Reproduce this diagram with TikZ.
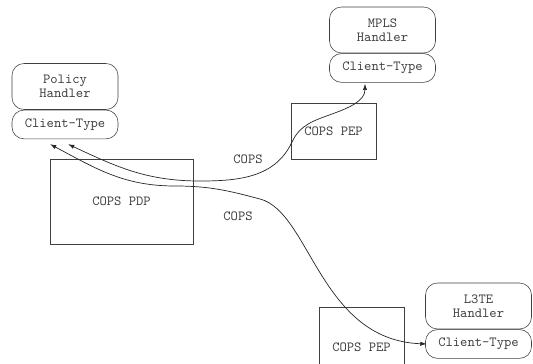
\documentclass[tikz,border=0pt]{standalone}
\usepackage{fontspec}
\usetikzlibrary{positioning,arrows.meta}

\tikzset{
  handler/.style={draw=black!75, text=black!75, rounded corners=0.3cm,
    minimum width=2.65cm, minimum height=1.15cm, align=center,
    font=\ttfamily\fontsize{9.9}{10}\selectfont},
  ctype/.style={handler, minimum height=0.72cm},
  entity/.style={draw=black!75, text=black!75, minimum width=2.125cm,
    font=\ttfamily\fontsize{9.9}{10}\selectfont},
  proto/.style={text=black!75, font=\ttfamily\fontsize{9.9}{10}\selectfont},
  link/.style={draw=black!85, line width=0.5pt,
    {Latex[length=4.5pt,width=3pt]}-{Latex[length=4.5pt,width=3pt]}},
}

\begin{document}
\begin{tikzpicture}[x=0.025cm, y=-0.025cm]
  \clip (0,0) rectangle (533,363);

  % handlers
  \node [handler] (polhd) at (65,86.5) {Policy\\Handler};
  \node [ctype, below=0pt of polhd] (polct) {Client-Type};

  \node [handler] (mplshd) at (382.5,30) {MPLS\\Handler};
  \node [ctype, below=0pt of mplshd] (mplsct) {Client-Type};

  \node [handler] (l3tehd) at (478.5,306) {L3TE\\Handler};
  \node [ctype, below=0pt of l3tehd] (l3tect) {Client-Type};

  % cops entities
  \node [entity, minimum width=3.575cm, minimum height=2.125cm] (pdp) at (121.5,201.5) {COPS PDP};
  \node [entity, minimum height=1.4cm] (pepa) at (333.5,131) {COPS PEP};
  \node [entity, minimum height=2cm] (pepb) at (361.5,347) {COPS PEP};

  % connections
  \draw [link] ([shift={(3,5)}]polct.south) to[out=-25, in=180] (200,181)
    to[out=0, in=-115] (292,142) to[out=65, in=200] (332,114)
    to[out=20, in=-90] ([shift={(-17.5,1)}]mplsct.south);

  \draw [link] ([shift={(-15,5)}]polct.south) to[out=-28, in=180] (175,186)
    to[out=0, in=165] (260,199) .. controls (310,212) and (320,340) ..
    ([xshift=1]l3tect.west);

  \node [proto] (copsa) at (248,159) {COPS};
  \node [proto] (copsb) at (238,216) {COPS};
\end{tikzpicture}
\end{document}
